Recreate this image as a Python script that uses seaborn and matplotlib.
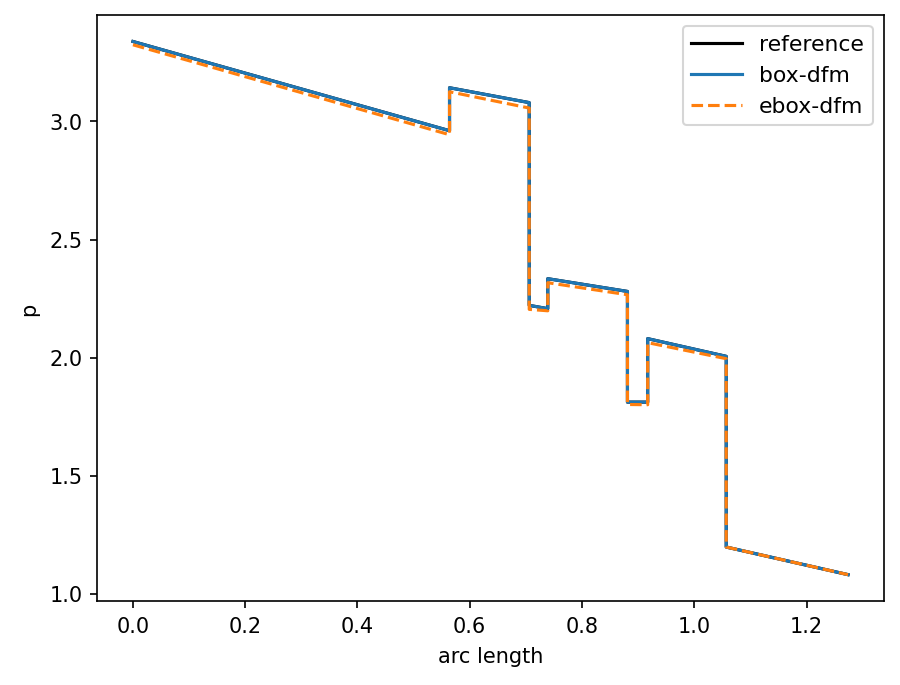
import pandas as pd
import matplotlib
matplotlib.use('Agg')
import matplotlib.pyplot as plt
import seaborn as sns

# arc length positions (repeated x = jump)
arc = [0.0, 0.564, 0.564, 0.706, 0.706, 0.739, 0.739, 0.881, 0.881,
       0.917, 0.917, 1.057, 1.057, 1.274]

# pressure values
p_reference = [3.339, 2.961, 3.143, 3.080, 2.221, 2.207, 2.334, 2.280, 1.811,
               1.811, 2.080, 2.005, 1.197, 1.080]
p_box = [3.339, 2.961, 3.143, 3.080, 2.221, 2.207, 2.334, 2.280, 1.811,
         1.811, 2.080, 2.005, 1.197, 1.080]
p_ebox = [3.325, 2.944, 3.126, 3.057, 2.204, 2.198, 2.317, 2.266, 1.801,
          1.800, 2.063, 1.995, 1.197, 1.080]

df = pd.DataFrame({'arc': arc, 'reference': p_reference,
                   'box': p_box, 'ebox': p_ebox})

fig, ax = plt.subplots(figsize=(6.0, 4.573), dpi=150)
fig.subplots_adjust(left=0.108, right=0.982, top=0.977, bottom=0.122)

sns.lineplot(data=df, x='arc', y='reference', ax=ax, color='black',
             label='reference', sort=False, estimator=None, linewidth=1.5)
sns.lineplot(data=df, x='arc', y='box', ax=ax, color='#1f77b4',
             label='box-dfm', sort=False, estimator=None, linewidth=1.5)
sns.lineplot(data=df, x='arc', y='ebox', ax=ax, color='#ff7f0e',
             label='ebox-dfm', sort=False, estimator=None, linewidth=1.5,
             linestyle='--')

ax.set_xlabel('arc length', labelpad=5)
ax.set_ylabel('p', labelpad=5)
ax.legend(loc='upper right', fontsize=10.5, handlelength=2.3)

fig.savefig('out.png', dpi=150)
